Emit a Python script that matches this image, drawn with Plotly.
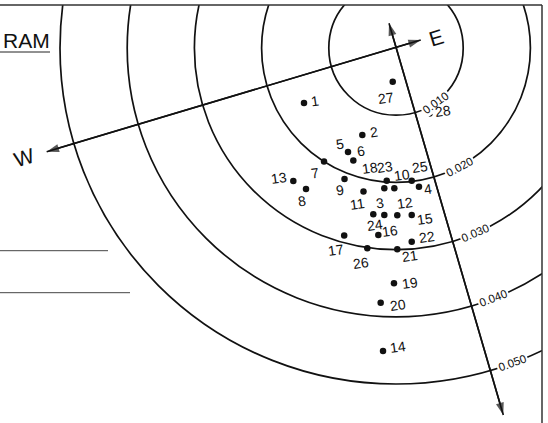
import math
import plotly.graph_objects as go

# ---------------- data ----------------
point_ids = [str(i) for i in range(1, 29)]
point_x = [-0.01369, -0.00501, -0.00174, 0.00342, -0.00714, -0.00635, -0.01071,
           -0.01339, -0.00766, -0.00025, -0.00484, 0.00019, -0.01528, -0.00193,
           0.00234, -0.00263, -0.00771, -0.00174, -0.00030, -0.00228, 0.00019,
           0.00234, -0.00138, -0.00338, 0.00234, -0.00427, -0.00049, 0.00499]
point_y = [-0.00818, -0.01295, -0.02485, -0.02064, -0.01548, -0.01674, -0.01689,
           -0.02098, -0.01949, -0.02088, -0.02135, -0.02490, -0.01979, -0.04509,
           -0.02485, -0.02783, -0.02790, -0.02088, -0.03501, -0.03790, -0.02996,
           -0.02882, -0.01975, -0.02475, -0.01975, -0.02981, -0.00501, -0.00975]

contour_levels = [0.010, 0.020, 0.030, 0.040, 0.050]
contour_labels = ["0.010", "0.020", "0.030", "0.040", "0.050"]

we_axis_x = [-0.05198, 0.00368]   # W tip, E tip
we_axis_y = [-0.01543, 0.00119]
ns_axis_x = [-0.00104, 0.01597]   # upper tip, lower tip
ns_axis_y = [0.00368, -0.05461]

# ---------------- layout helpers / styles ----------------
SCALE = 6720.0            # px per unit
CX, CY = 396.0, 48.0      # pixel position of the origin
W, H = 548, 423
ML, MR, MT, MB = 0, 6, 5, 0

def P(px, py):
    return (px - CX) / SCALE, (CY - py) / SCALE

xr0, _ = P(ML, 0)
xr1, _ = P(W - MR, 0)
_, yr1 = P(0, MT)
_, yr0 = P(0, H - MB)

# label offsets (screen px: dx right, dy down)
label_dx = [11, 12, -4, 9, -8, 8, -9, -4, -5, 8, -6, 8, -14, 15,
            13, 12, -8, -14, 16, 17, 13, 15, -2, 2, 8, -6, -7, 13]
label_dy = [-2, -3, -12, 2, -8, -9, 11, 12, 11, -13, 13, -12, -3, -4,
            4, -4, 15, -20, 0, 2, 7, -5, -14, 11, -14, 15, 16, -3]
contour_label_angle = [54.4, 61.9, 66.8, 68.7, 69.8]   # deg clockwise below east

FONT = "Liberation Sans"
INK = "#111111"

fig = go.Figure()

shapes = []
for r in contour_levels:
    shapes.append(dict(type="circle", xref="x", yref="y", x0=-r, x1=r, y0=-r, y1=r,
                       line=dict(color=INK, width=1.7)))

# frame (top and right)
shapes.append(dict(type="line", xref="paper", yref="paper", x0=0, x1=1, y0=1, y1=1,
                   line=dict(color="#333333", width=1.5)))
shapes.append(dict(type="line", xref="paper", yref="paper", x0=1, x1=1, y0=1, y1=0,
                   line=dict(color="#333333", width=1.5)))

# left side ruled lines and title underline
for (a, b, yy) in [(0, 108, 250.7), (0, 130, 292.7)]:
    xa, ya = P(a, yy)
    xb, _ = P(b, yy)
    shapes.append(dict(type="line", xref="x", yref="y", x0=xa, x1=xb, y0=ya, y1=ya,
                       line=dict(color="#444444", width=1)))
xa, ya = P(0, 52)
xb, _ = P(50, 52)
shapes.append(dict(type="line", xref="x", yref="y", x0=xa, x1=xb, y0=ya, y1=ya,
                   line=dict(color="#222222", width=1)))

annotations = []
# contour labels (white background breaks the circle)
for r, lab, ang in zip(contour_levels, contour_labels, contour_label_angle):
    t = math.radians(ang)
    annotations.append(dict(x=r * math.cos(t), y=-r * math.sin(t), xref="x", yref="y",
                            text=lab, showarrow=False, textangle=ang - 90,
                            font=dict(family=FONT, size=11.5, color=INK),
                            bgcolor="white", borderpad=1))

# axes lines with arrowheads
def arrow_trace(xs, ys):
    return go.Scatter(x=xs, y=ys, mode="lines+markers",
                      line=dict(color=INK, width=1.6),
                      marker=dict(symbol="arrow", size=[0, 13], color=INK,
                                  angleref="previous", line=dict(width=0)),
                      hoverinfo="skip", showlegend=False)

fig.add_trace(arrow_trace(we_axis_x[::-1], we_axis_y[::-1]))
fig.add_trace(arrow_trace(we_axis_x, we_axis_y))
fig.add_trace(arrow_trace(ns_axis_x[::-1], ns_axis_y[::-1]))
fig.add_trace(arrow_trace(ns_axis_x, ns_axis_y))

# points
fig.add_trace(go.Scatter(x=point_x, y=point_y, mode="markers",
                         marker=dict(size=6.5, color=INK), showlegend=False,
                         text=point_ids, hoverinfo="text"))

for pid, x, y, dx, dy in zip(point_ids, point_x, point_y, label_dx, label_dy):
    annotations.append(dict(x=x, y=y, xref="x", yref="y", text=pid, showarrow=False,
                            xshift=dx, yshift=-dy, textangle=-8,
                            font=dict(family=FONT, size=14, color=INK)))

# W / E labels
wx, wy = P(24, 157)
ex, ey = P(436, 37)
annotations.append(dict(x=wx, y=wy, xref="x", yref="y", text="W", showarrow=False,
                        textangle=-17, font=dict(family=FONT, size=21, color=INK)))
annotations.append(dict(x=ex, y=ey, xref="x", yref="y", text="E", showarrow=False,
                        textangle=-17, font=dict(family=FONT, size=21, color=INK)))

# partial title
tx, ty = P(0.5, 40)
annotations.append(dict(x=tx, y=ty, xref="x", yref="y", text="RAM", showarrow=False,
                        xanchor="left", yanchor="middle",
                        font=dict(family=FONT, size=21, color=INK)))

fig.update_layout(
    width=W, height=H,
    margin=dict(l=ML, r=MR, t=MT, b=MB, pad=0),
    paper_bgcolor="white", plot_bgcolor="white",
    showlegend=False,
    shapes=shapes, annotations=annotations,
    xaxis=dict(range=[xr0, xr1], visible=False, fixedrange=True),
    yaxis=dict(range=[yr0, yr1], visible=False, fixedrange=True),
)

fig.write_html("out.html", config={"displayModeBar": False},
               post_script="document.body.style.margin='0';document.body.style.padding='0';")
